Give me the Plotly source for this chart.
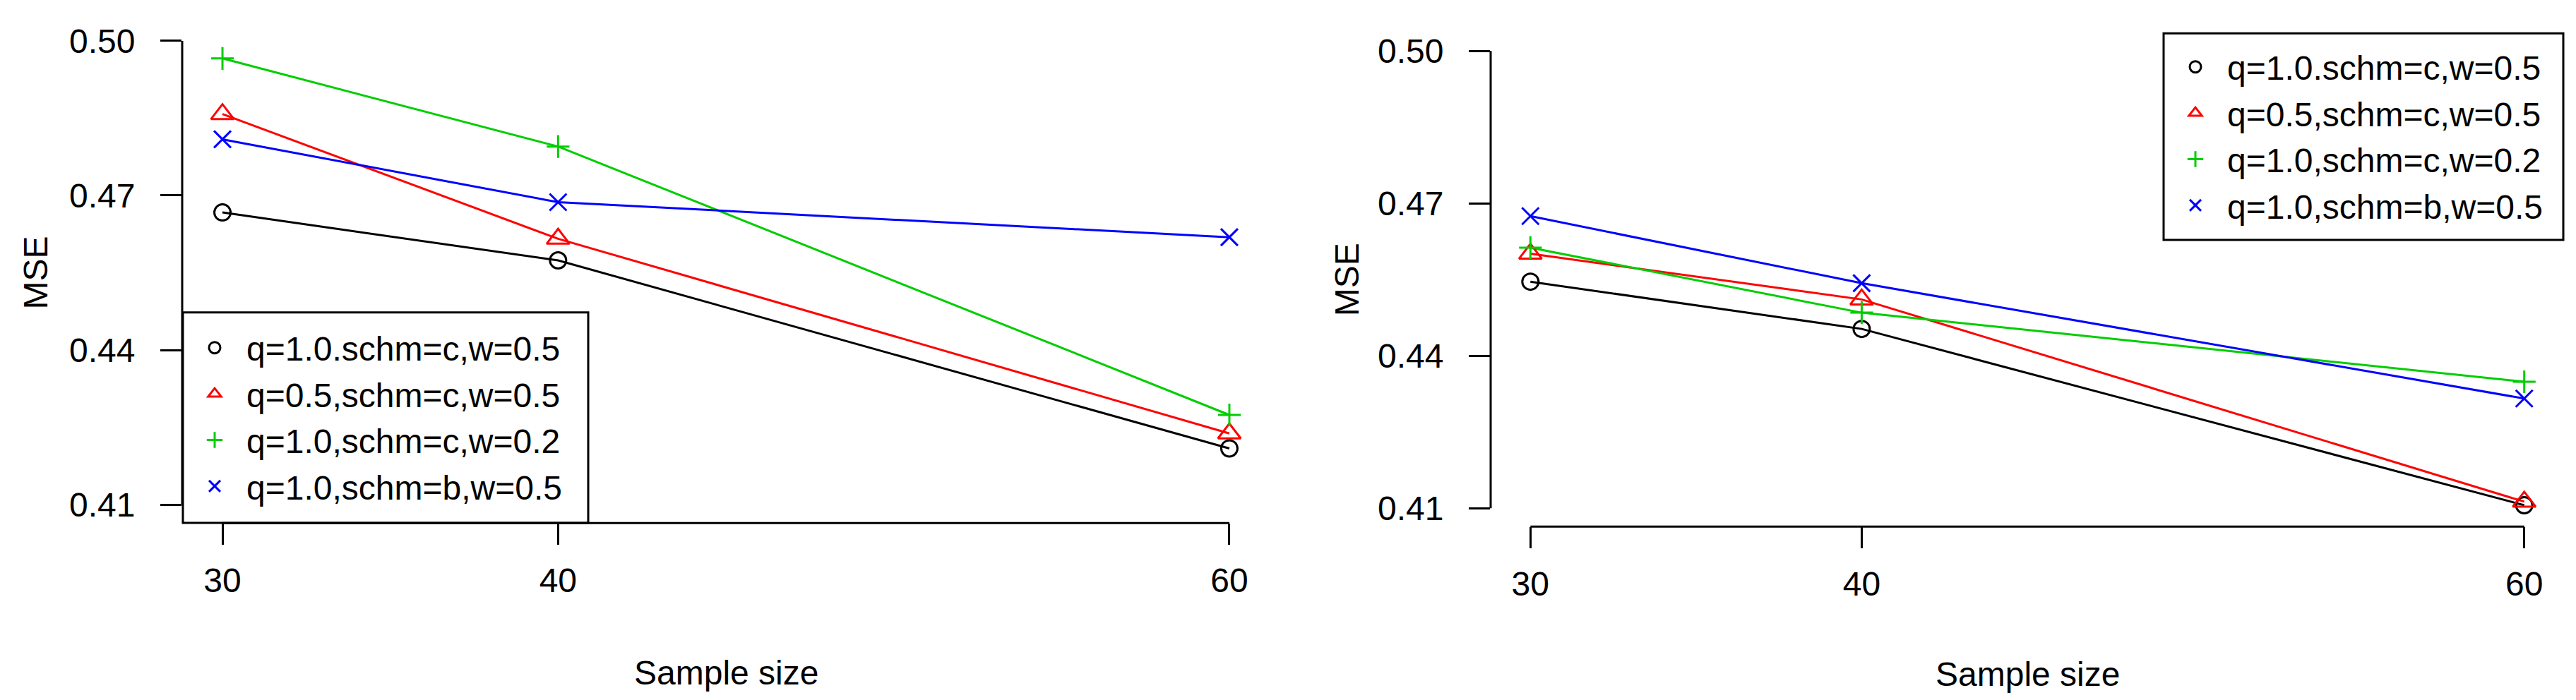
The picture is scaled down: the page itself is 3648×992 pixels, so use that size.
import plotly.graph_objects as go

FIG_WIDTH = 3648
FIG_HEIGHT = 992
FONT_FAMILY = "Liberation Sans, Arial, Helvetica, sans-serif"
FONT_SIZE = 48
LINE_WIDTH = 3

# data (MSE by sample size)
sample_sizes = [30, 40, 60]
x_ticks = [30, 40, 60]
y_ticks = [0.41, 0.44, 0.47, 0.50]
y_tick_labels = ["0.41", "0.44", "0.47", "0.50"]

series_names = [
    "q=1.0.schm=c,w=0.5",
    "q=0.5,schm=c,w=0.5",
    "q=1.0,schm=c,w=0.2",
    "q=1.0,schm=b,w=0.5",
]

# left panel
left_black = [0.4667, 0.4574, 0.4209]
left_red = [0.4858, 0.4616, 0.4238]
left_green = [0.4966, 0.4795, 0.4274]
left_blue = [0.4809, 0.4687, 0.4619]

# right panel
right_black = [0.4546, 0.4453, 0.4106]
right_red = [0.4601, 0.4511, 0.4113]
right_green = [0.4613, 0.4485, 0.4349]
right_blue = [0.4675, 0.4543, 0.4316]

COLORS = ["#000000", "#FF0000", "#00CD00", "#0000FF"]
SYMBOLS = ["circle-open", "triangle-up-open", "cross-thin-open", "x-thin-open"]
SIZES = [23, 28, 23, 24]


def px_x(px):
    return px / FIG_WIDTH


def px_y(px):
    return 1 - px / FIG_HEIGHT


def add_panel(fig, series, xaxis, yaxis, legend):
    # lines without legend entry, markers carry the legend (R legend shows pch only)
    for name, values, color in zip(series_names, series, COLORS):
        fig.add_trace(
            go.Scatter(
                x=sample_sizes,
                y=values,
                mode="lines",
                line=dict(color=color, width=LINE_WIDTH),
                showlegend=False,
                hoverinfo="skip",
                xaxis=xaxis,
                yaxis=yaxis,
            )
        )
    for name, values, color, symbol, size in zip(
        series_names, series, COLORS, SYMBOLS, SIZES
    ):
        fig.add_trace(
            go.Scatter(
                x=sample_sizes,
                y=values,
                name=name,
                mode="markers",
                marker=dict(
                    symbol=symbol,
                    size=size,
                    color=color,
                    line=dict(color=color, width=LINE_WIDTH),
                ),
                xaxis=xaxis,
                yaxis=yaxis,
                legend=legend,
            )
        )


def axis_style(domain, rng, tickvals, ticktext=None, anchor=None, standoff=0):
    return dict(
        domain=domain,
        range=rng,
        tickmode="array",
        tickvals=tickvals,
        ticktext=ticktext,
        ticks="outside",
        ticklen=30,
        tickwidth=LINE_WIDTH,
        tickcolor="black",
        ticklabelstandoff=standoff,
        showline=False,
        showgrid=False,
        zeroline=False,
        tickfont=dict(size=FONT_SIZE, color="black", family=FONT_FAMILY),
        anchor=anchor,
    )


def legend_style(left_px, top_px):
    return dict(
        x=px_x(left_px),
        y=px_y(top_px),
        xanchor="left",
        yanchor="top",
        bgcolor="rgba(0,0,0,0)",
        borderwidth=0,
        itemwidth=80,
        traceorder="normal",
        font=dict(size=FONT_SIZE, family=FONT_FAMILY, color="black"),
    )


fig = go.Figure()
add_panel(fig, [left_black, left_red, left_green, left_blue], "x", "y", "legend")
add_panel(
    fig, [right_black, right_red, right_green, right_blue], "x2", "y2", "legend2"
)

# plot regions (pixels in the reference): left x 250..1790, y 23.7..733.3
# right x 2103..3623, y 38.4..738.2
x_range = [28.8, 61.2]
y_range = [0.4064, 0.5036]

fig.update_layout(
    width=FIG_WIDTH,
    height=FIG_HEIGHT,
    autosize=False,
    margin=dict(l=0, r=0, t=0, b=0),
    paper_bgcolor="white",
    plot_bgcolor="white",
    font=dict(family=FONT_FAMILY, size=FONT_SIZE, color="black"),
    xaxis=axis_style(
        [px_x(250), px_x(1790)], x_range, x_ticks, anchor="y", standoff=9
    ),
    yaxis=axis_style(
        [px_y(733.3), px_y(23.7)],
        y_range,
        y_ticks,
        y_tick_labels,
        anchor="x",
        standoff=26,
    ),
    xaxis2=axis_style(
        [px_x(2103), px_x(3623)], x_range, x_ticks, anchor="y2", standoff=9
    ),
    yaxis2=axis_style(
        [px_y(738.2), px_y(38.4)],
        y_range,
        y_ticks,
        y_tick_labels,
        anchor="x2",
        standoff=26,
    ),
    legend=legend_style(251, 447),
    legend2=legend_style(3056, 49),
)

# R style axis lines: only from first to last tick
for xa, ya in [("x", "y"), ("x2", "y2")]:
    fig.add_shape(
        type="line",
        xref=xa,
        yref=f"{ya} domain",
        x0=x_ticks[0],
        x1=x_ticks[-1],
        y0=0,
        y1=0,
        line=dict(color="black", width=LINE_WIDTH),
    )
    fig.add_shape(
        type="line",
        xref=f"{xa} domain",
        yref=ya,
        x0=0,
        x1=0,
        y0=y_ticks[0],
        y1=y_ticks[-1],
        line=dict(color="black", width=LINE_WIDTH),
    )

# legend boxes
for x0, x1, y0, y1 in [(251, 825, 733, 434.7), (3056, 3622, 332, 39.3)]:
    fig.add_shape(
        type="rect",
        xref="paper",
        yref="paper",
        x0=px_x(x0),
        x1=px_x(x1),
        y0=px_y(y0),
        y1=px_y(y1),
        line=dict(color="black", width=LINE_WIDTH),
        fillcolor="rgba(0,0,0,0)",
    )

# axis titles
for text, x, y, angle in [
    ("MSE", 42, 378.5, -90),
    ("MSE", 1899, 388.3, -90),
    ("Sample size", 1020, 945, 0),
    ("Sample size", 2863, 947, 0),
]:
    fig.add_annotation(
        text=text,
        x=px_x(x),
        y=px_y(y),
        xref="paper",
        yref="paper",
        xanchor="center",
        yanchor="middle",
        textangle=angle,
        showarrow=False,
        font=dict(size=FONT_SIZE, family=FONT_FAMILY, color="black"),
    )

fig.write_html("out.html")
